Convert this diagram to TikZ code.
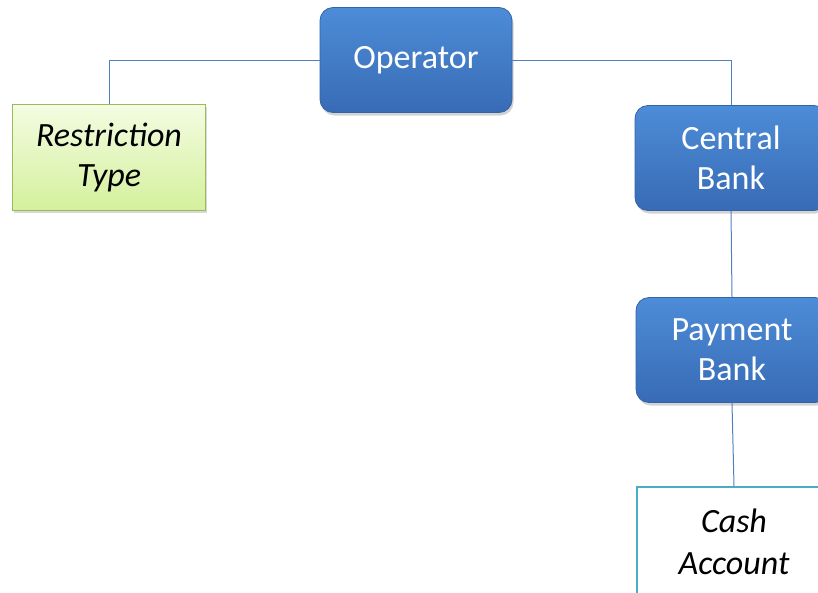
\documentclass[tikz,border=0pt]{standalone}
\usepackage{fontspec}
\setmainfont{Carlito}
\usetikzlibrary{shadows}
\definecolor{bluetop}{HTML}{4D8CD8}
\definecolor{bluebot}{HTML}{386BB5}
\definecolor{blueedge}{HTML}{3464A6}
\definecolor{greentop}{HTML}{F4FCE2}
\definecolor{greenbot}{HTML}{D4F09C}
\definecolor{greenedge}{HTML}{9BBB59}
\definecolor{tealedge}{HTML}{4BACC6}
\definecolor{linkc}{HTML}{4F81BD}
\tikzset{
  bluebox/.style={rectangle, rounded corners=13pt, draw=blueedge, line width=0.8pt,
    top color=bluetop, bottom color=bluebot, text=white,
    minimum width=192pt, minimum height=105pt, align=center,
    font=\fontsize{34}{40}\selectfont,
    drop shadow={opacity=0.35, shadow xshift=1.5pt, shadow yshift=-3pt}},
  greenbox/.style={rectangle, draw=greenedge, line width=1.5pt,
    top color=greentop, bottom color=greenbot, text=black,
    minimum width=193pt, minimum height=106pt, align=center,
    font=\fontsize{34}{40}\selectfont\itshape,
    drop shadow={opacity=0.3, shadow xshift=1.5pt, shadow yshift=-2.5pt}},
  whitebox/.style={rectangle, draw=tealedge, line width=1.8pt, fill=white, text=black,
    minimum width=194pt, minimum height=110pt, align=center,
    font=\fontsize{34}{40}\selectfont\itshape},
  link/.style={draw=linkc, line width=1pt}
}
\begin{document}
\begin{tikzpicture}[x=1pt,y=1pt]
\useasboundingbox (0,0) rectangle (818,-592);
\clip (0,0) rectangle (818,-592);
\node[bluebox] (op) at (416,-60) {\raisebox{-2pt}{Operator}};
\node[greenbox] (rt) at (109,-157.5) {Restriction\\Type};
\node[bluebox] (cb) at (731,-158) {Central\\Bank};
\node[bluebox] (pb) at (732,-350) {Payment\\Bank};
\node[whitebox] (ca) at (734,-542) {\raisebox{2pt}{Cash}\\Account};
\draw[link] (op.west) -| (rt.north);
\draw[link] (op.east) -| (cb.north);
\draw[link] (cb.south) -- (pb.north);
\draw[link] (pb.south) -- (ca.north);
\end{tikzpicture}
\end{document}
